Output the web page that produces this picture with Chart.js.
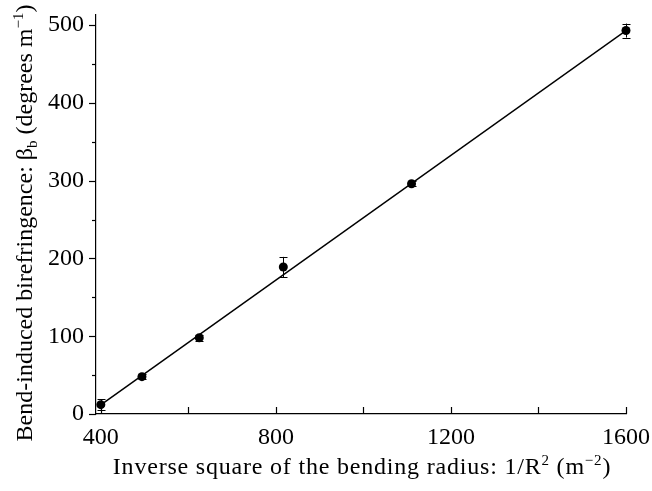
<!DOCTYPE html>
<html>
<head>
<meta charset="utf-8">
<script src="https://cdn.jsdelivr.net/npm/chart.js@4"></script>
<style>
  html,body{margin:0;padding:0;background:#fff;}
  #wrap{width:652px;height:491px;}
</style>
</head>
<body>
<div id="wrap"><canvas id="c" width="652" height="491"></canvas></div>
<script>
/* bend-induced birefringence vs 1/R^2 */
const xVals = [400, 494, 625, 817, 1110, 1600];
const yVals = [12, 48, 98, 189, 296, 493];
const yErr  = [7, 3, 4, 13, 3, 9];
const fitX = [400, 1600];
const fitY = [11.8, 493];
const xTicks = [400, 600, 800, 1000, 1200, 1400, 1600];
const yTicks = [0, 50, 100, 150, 200, 250, 300, 350, 400, 450, 500];

const FONT = '"Liberation Serif", "Times New Roman", serif';

// rich text: [{t, sub, sup}] centred on cx, baseline y
function richWidth(ctx, segs, size) {
  return segs.reduce((w,s)=>{ ctx.font = `${(s.sub||s.sup)?Math.round(size*0.62):size}px ${FONT}`; return w+ctx.measureText(s.t).width; }, 0);
}
function drawRich(ctx, segs, cx, y, size) {
  let x = cx - richWidth(ctx, segs, size)/2;
  ctx.textAlign = 'left'; ctx.textBaseline = 'alphabetic'; ctx.fillStyle = '#000';
  segs.forEach((s)=>{
    const small = s.sub||s.sup;
    ctx.font = `${small?Math.round(size*0.62):size}px ${FONT}`;
    const dy = s.sub ? size*0.22 : s.sup ? -size*0.38 : 0;
    ctx.fillText(s.t, x, y+dy);
    x += ctx.measureText(s.t).width;
  });
}

const xTitle = [{t:'Inverse square of the bending radius: 1/R'},{t:'2',sup:true},{t:' (m'},{t:'\u22122',sup:true},{t:')'}];
const yTitle = [{t:'Bend-induced birefringence: \u03b2'},{t:'b',sub:true},{t:' (degrees m'},{t:'\u22121',sup:true},{t:')'}];

const decor = {
  id:'decor',
  afterDatasetsDraw(chart) {
    const { ctx, scales:{x,y}, chartArea:a } = chart;
    ctx.save();
    ctx.strokeStyle = '#000'; ctx.lineWidth = 1;
    // error bars
    xVals.forEach((v,i)=>{
      const px = Math.round(x.getPixelForValue(v))+0.5;
      const t = y.getPixelForValue(yVals[i]+yErr[i]), b = y.getPixelForValue(yVals[i]-yErr[i]);
      ctx.beginPath();
      ctx.moveTo(px,t); ctx.lineTo(px,b);
      ctx.moveTo(px-4,Math.round(t)+0.5); ctx.lineTo(px+4,Math.round(t)+0.5);
      ctx.moveTo(px-4,Math.round(b)+0.5); ctx.lineTo(px+4,Math.round(b)+0.5);
      ctx.stroke();
    });
    // ticks: x inward, y outward
    ctx.lineWidth = 1.2;
    xTicks.forEach((v)=>{
      const px = Math.round(x.getPixelForValue(v))+0.5;
      ctx.beginPath(); ctx.moveTo(px,a.bottom); ctx.lineTo(px,a.bottom-7); ctx.stroke();
    });
    yTicks.forEach((v)=>{
      const py = Math.round(y.getPixelForValue(v))+0.5;
      ctx.beginPath(); ctx.moveTo(a.left,py); ctx.lineTo(a.left-(v%100===0?7:4),py); ctx.stroke();
    });
    // axis titles
    ctx.letterSpacing = '0.8px';
    drawRich(ctx, xTitle, 362, 474, 24);
    ctx.letterSpacing = '0px';
    ctx.translate(32, 223); ctx.rotate(-Math.PI/2);
    drawRich(ctx, yTitle, 0, 0, 24);
    ctx.restore();
  }
};

const noPad = (s)=>{ s.paddingLeft = 0; s.paddingRight = 0; s.paddingTop = 0; s.paddingBottom = 0; };

new Chart(document.getElementById('c'), {
  type:'scatter',
  data:{ datasets:[
    { data:xVals.map((v,i)=>({x:v,y:yVals[i]})), pointRadius:4.5, pointHoverRadius:4.5, backgroundColor:'#000', borderColor:'#000', borderWidth:0, clip:false, order:1 },
    { type:'line', data:fitX.map((v,i)=>({x:v,y:fitY[i]})), borderColor:'#000', borderWidth:1.5, pointRadius:0, fill:false, order:2 },
  ]},
  options:{
    responsive:false, animation:false, devicePixelRatio:1,
    layout:{ padding:{ top:15, right:26, left:0, bottom:0 } },
    plugins:{ legend:{display:false}, tooltip:{enabled:false} },
    scales:{
      x:{ type:'linear', min:389, max:1600,
        afterBuildTicks:(s)=>{ s.ticks = xTicks.map((v)=>({value:v})); },
        afterFit:(s)=>{ s.height = 77; noPad(s); },
        grid:{ drawOnChartArea:false, drawTicks:false },
        border:{ color:'#000', width:1.2 },
        ticks:{ autoSkip:false, maxRotation:0, padding:9, color:'#000', font:{family:FONT, size:24},
          callback:(v)=> v%400===0 ? v : '' } },
      y:{ type:'linear', min:0, max:513,
        afterBuildTicks:(s)=>{ s.ticks = yTicks.map((v)=>({value:v})); },
        afterFit:(s)=>{ s.width = 96; noPad(s); },
        grid:{ drawOnChartArea:false, drawTicks:false },
        border:{ color:'#000', width:1.2 },
        ticks:{ autoSkip:false, padding:12, color:'#000', font:{family:FONT, size:24},
          callback:(v)=> v%100===0 ? v : '' } },
    }
  },
  plugins:[decor]
});
</script>
</body>
</html>
